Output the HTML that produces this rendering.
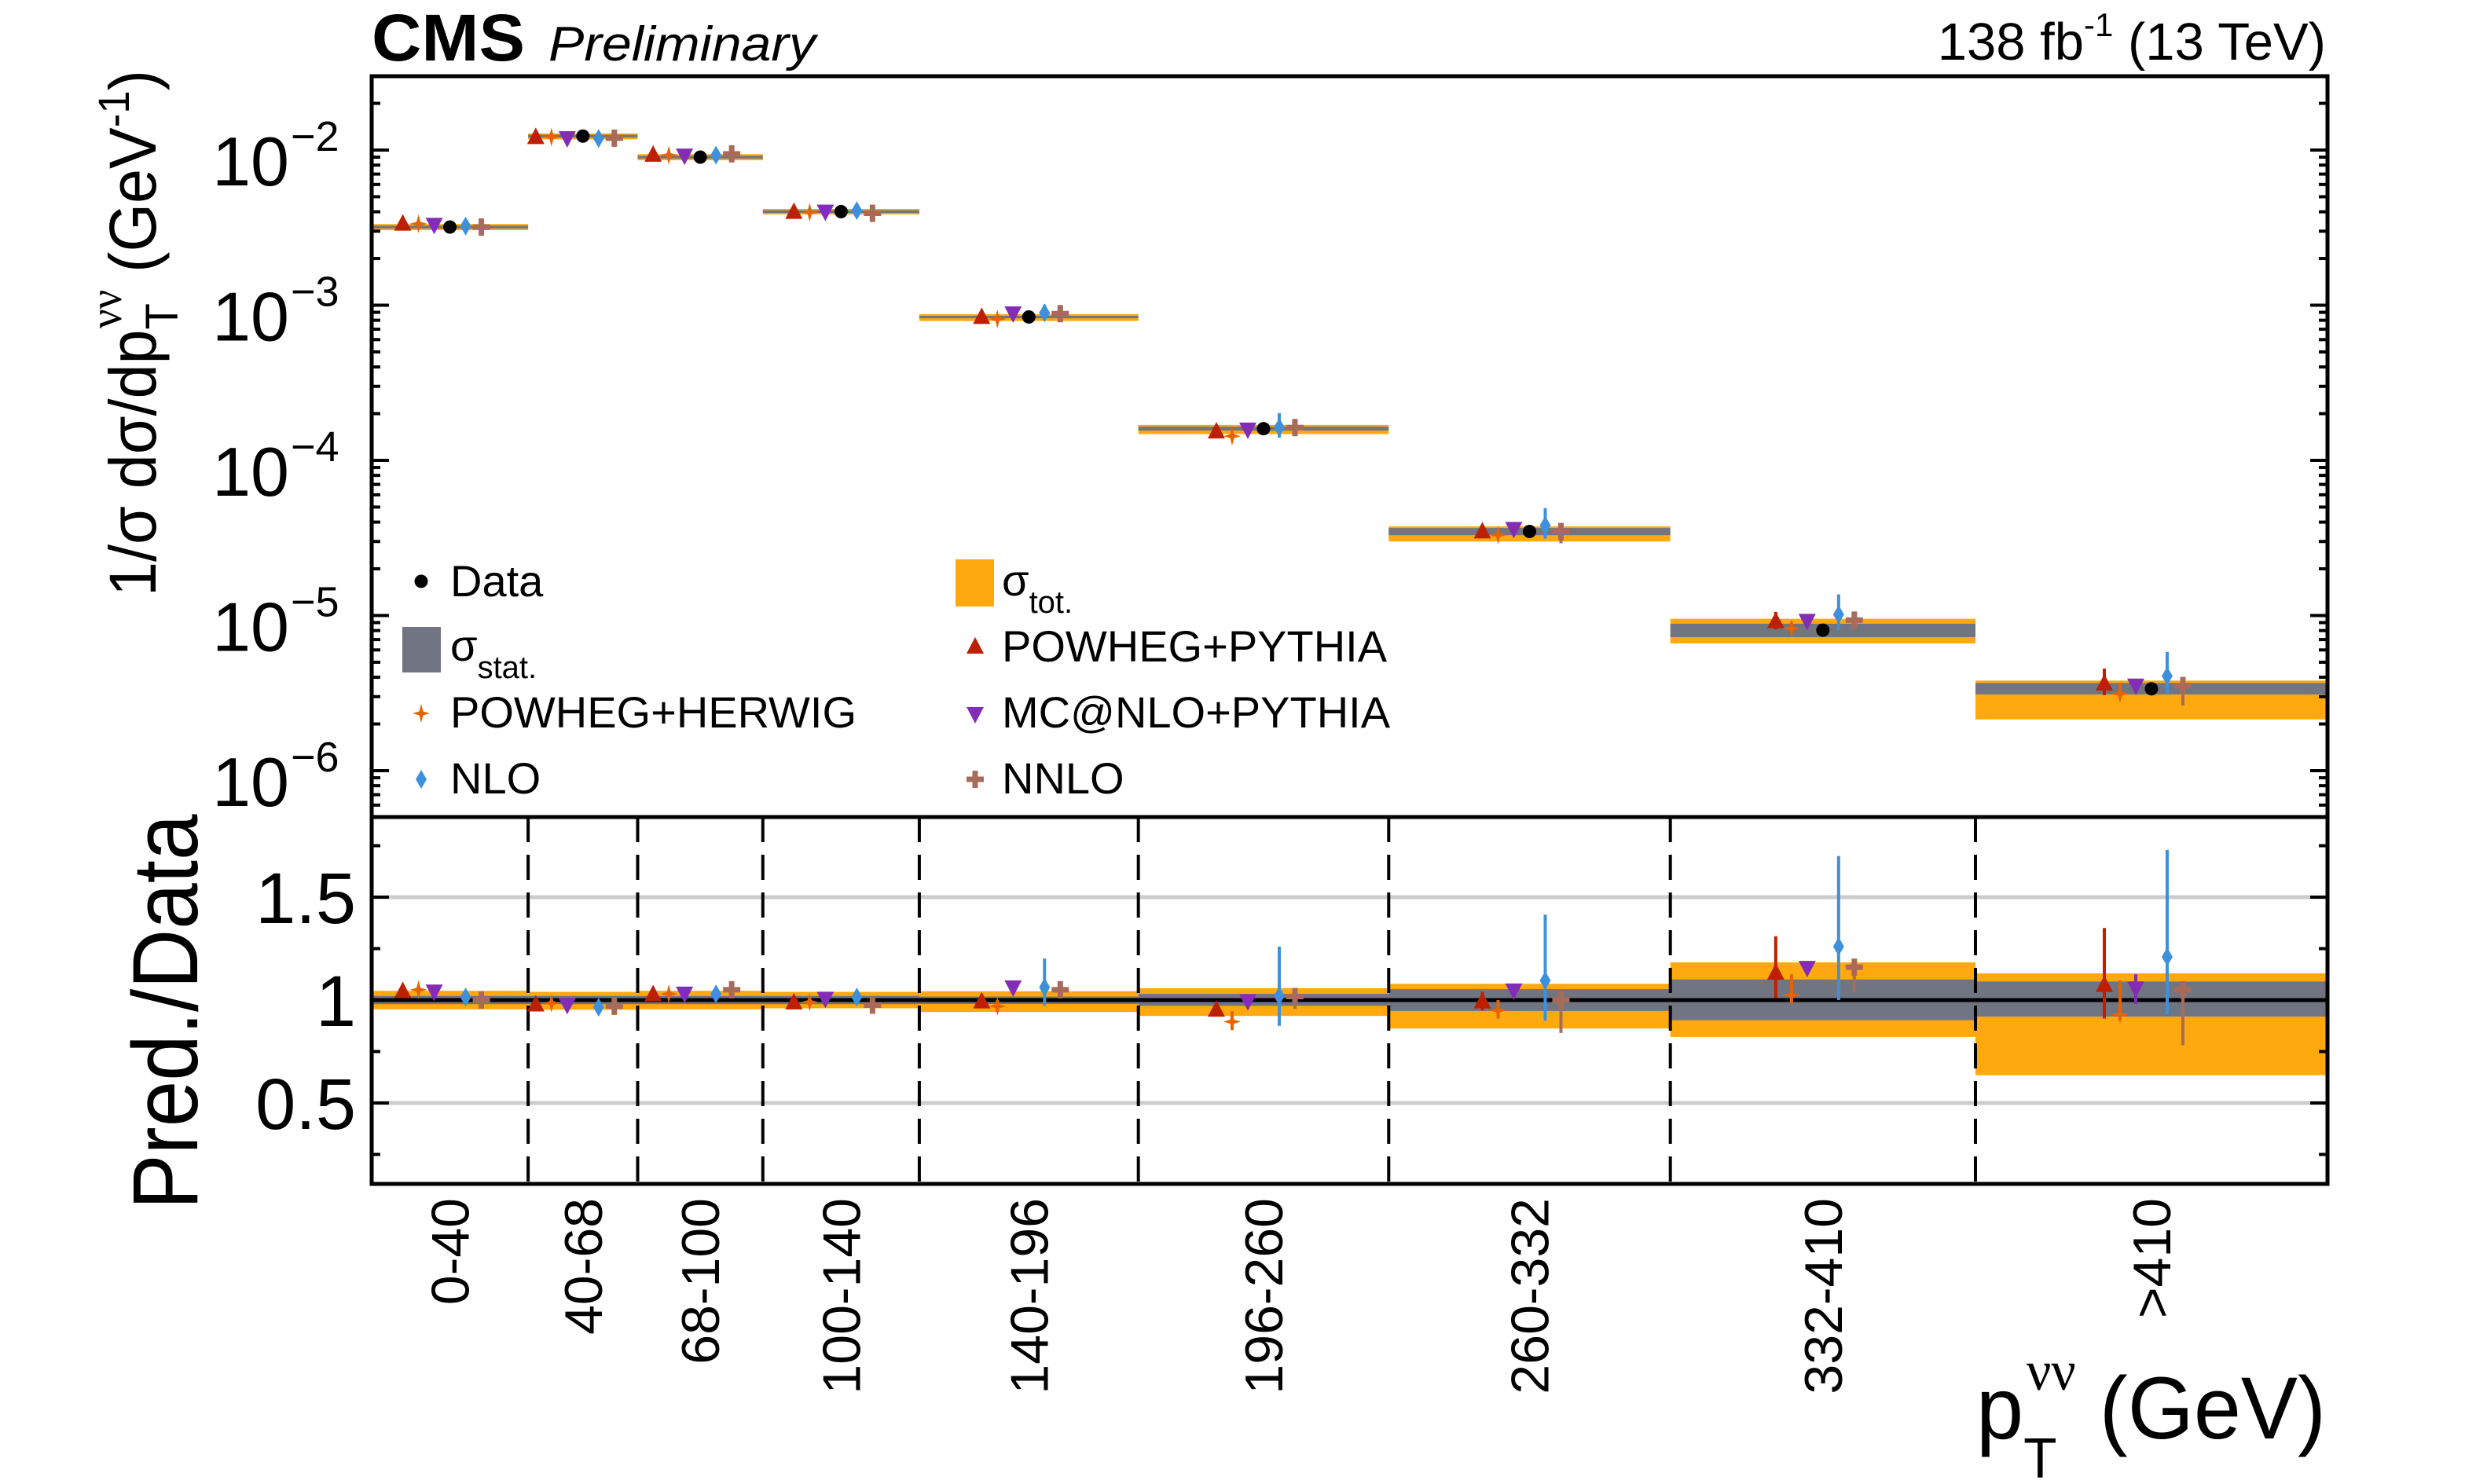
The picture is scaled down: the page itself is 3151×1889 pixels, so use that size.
<!DOCTYPE html>
<html><head><meta charset="utf-8"><style>
html,body{margin:0;padding:0;background:#fff}
svg{display:block;font-family:"Liberation Sans",Arial,sans-serif}
</style></head><body>
<svg id="chart" width="3151" height="1889" viewBox="0 0 3151 1889" xmlns="http://www.w3.org/2000/svg">
<rect x="0" y="0" width="3151" height="1889" fill="#fff"/>
<g id="bands-up"></g>
<g id="bands-lo"></g>
<g id="grid"></g>
<g id="marks"></g>
<g id="axes"></g>
<text x="473" y="77" font-size="84" font-weight="bold" textLength="195" lengthAdjust="spacingAndGlyphs">CMS</text>
<text x="698" y="77" font-size="62" font-style="italic" textLength="340" lengthAdjust="spacingAndGlyphs">Preliminary</text>
<text x="2960" y="76" font-size="67" text-anchor="end">138 fb<tspan font-size="42" dy="-30">-1</tspan><tspan dy="30"> (13 TeV)</tspan></text>
<text transform="translate(198,424) rotate(-90)" font-size="84" text-anchor="middle" textLength="670" lengthAdjust="spacingAndGlyphs">1/σ dσ/dp<tspan font-size="58" dy="28">T</tspan><tspan font-size="58" dy="-72" dx="-34" font-family="Liberation Serif, serif">νν</tspan><tspan dy="44"> (GeV</tspan><tspan font-size="56" dy="-34">-1</tspan><tspan dy="34">)</tspan></text>
<text transform="translate(251,1288) rotate(-90)" font-size="118" text-anchor="middle" textLength="503" lengthAdjust="spacingAndGlyphs">Pred./Data</text>
<text x="2960" y="1831" font-size="112" text-anchor="end" textLength="445" lengthAdjust="spacingAndGlyphs">p<tspan font-size="72" dy="50">T</tspan><tspan font-size="72" dy="-112" dx="-40" font-family="Liberation Serif, serif">νν</tspan><tspan dy="62"> (GeV)</tspan></text>
<g id="legend"></g>
</svg>
<script>
// ---- data ----
const binLabels = ["0-40","40-68","68-100","100-140","140-196","196-260","260-332","332-410",">410"];
const binEdges = [0,40,68,100,140,196,260,332,410,500];
const dataValues = [3.19e-3,1.23e-2,9.0e-3,4.01e-3,8.4e-4,1.6e-4,3.48e-5,8.05e-6,3.37e-6];
const totUp = [0.045,0.040,0.045,0.040,0.043,0.058,0.079,0.183,0.130];
const totDn = [0.045,0.047,0.045,0.040,0.058,0.077,0.138,0.179,0.365];
const statUp = [0.02,0.02,0.02,0.02,0.017,0.03,0.053,0.10,0.09];
const statDn = [0.02,0.02,0.02,0.02,0.019,0.028,0.053,0.098,0.08];
const ratioPP = [1.04,0.975,1.025,0.985,0.99,0.95,0.99,1.13,1.07];
const ratioPH = [1.05,0.985,1.03,0.99,0.97,0.895,0.95,1.025,0.93];
const ratioMC = [1.045,0.98,1.035,1.01,1.065,0.998,1.05,1.16,1.06];
const ratioNLO = [1.015,0.965,1.03,1.015,1.062,1.02,1.095,1.26,1.21];
const ratioNNLO = [1.0,0.97,1.05,0.975,1.05,1.017,1.0,1.16,1.05];
const errUpPP = [0.01,0.01,0.01,0.01,0.02,0.03,0.05,0.18,0.28];
const errDnPP = [0.01,0.01,0.01,0.01,0.02,0.03,0.04,0.12,0.16];
const errUpPH = [0.01,0.01,0.01,0.01,0.03,0.05,0.05,0.10,0.165];
const errDnPH = [0.01,0.01,0.01,0.01,0.03,0.04,0.04,0.04,0.03];
const errUpMC = [0.01,0.01,0.01,0.01,0.01,0.01,0.01,0.02,0.065];
const errDnMC = [0.01,0.01,0.01,0.01,0.01,0.01,0.01,0.02,0.08];
const errUpNLO = [0.01,0.01,0.01,0.01,0.14,0.24,0.32,0.44,0.52];
const errDnNLO = [0.01,0.01,0.01,0.01,0.09,0.145,0.195,0.26,0.28];
const errUpNNLO = [0.02,0.02,0.02,0.02,0.02,0.03,0.04,0.04,0.04];
const errDnNNLO = [0.02,0.02,0.02,0.02,0.02,0.06,0.16,0.12,0.27];
const upperTickExps = [-2,-3,-4,-5,-6];
const ratioTicks = [0.5,1,1.5];
const ratioTickLabels = ["0.5","1","1.5"];

// ---- layout ----
const L=473,R=2962,T=97,M=1040,B=1507;
const NS="http://www.w3.org/2000/svg";
function xPx(g){return L+g*(R-L)/binEdges[binEdges.length-1];}
function yUp(v){return 191+(-2-Math.log10(v))*197.5;}
function yLo(r){return 1273-(r-1)*262;}
function el(tag,attrs,parent){const e=document.createElementNS(NS,tag);for(const k in attrs)e.setAttribute(k,attrs[k]);parent.appendChild(e);return e;}
const C={tot:"#ffa90e",stat:"#717581",PP:"#bd1f01",PH:"#e76300",MC:"#832db6",NLO:"#3f90da",NNLO:"#a96b59"};

function marker(type,x,y,color,parent){
  let e;
  if(type==="circle"){e=el("circle",{cx:x,cy:y,r:8.5,fill:"#000"},parent);}
  else if(type==="tri-up"){e=el("polygon",{points:`${x},${y-13} ${x-11},${y+8} ${x+11},${y+8}`,fill:color},parent);}
  else if(type==="tri-down"){e=el("polygon",{points:`${x},${y+13} ${x-11},${y-8} ${x+11},${y-8}`,fill:color},parent);}
  else if(type==="diamond"){e=el("polygon",{points:`${x},${y-12} ${x+7},${y} ${x},${y+12} ${x-7},${y}`,fill:color},parent);}
  else if(type==="star"){e=el("polygon",{points:`${x},${y-12} ${x+2.5},${y-2.5} ${x+11},${y} ${x+2.5},${y+2.5} ${x},${y+12} ${x-2.5},${y+2.5} ${x-11},${y} ${x-2.5},${y-2.5}`,fill:color},parent);}
  else if(type==="plus"){e=el("path",{d:`M${x-3.5},${y-11}h7v7.5h7.5v7h-7.5v7.5h-7v-7.5h-7.5v-7h7.5z`,fill:color},parent);}
  return e;
}

const gBU=document.getElementById("bands-up"),gBL=document.getElementById("bands-lo"),gG=document.getElementById("grid"),gM=document.getElementById("marks"),gA=document.getElementById("axes"),gL=document.getElementById("legend");

// bands
for(let i=0;i<binLabels.length;i++){
  const x0=xPx(binEdges[i]),x1=xPx(binEdges[i+1]),d=dataValues[i];
  let r=el("rect",{x:x0,y:yUp(d*(1+totUp[i])),width:x1-x0,height:yUp(d*(1-totDn[i]))-yUp(d*(1+totUp[i])),fill:C.tot},gBU);
  
  
  r=el("rect",{x:x0,y:yUp(d*(1+statUp[i])),width:x1-x0,height:yUp(d*(1-statDn[i]))-yUp(d*(1+statUp[i])),fill:C.stat},gBU);
  
  
  r=el("rect",{x:x0,y:yLo(1+totUp[i]),width:x1-x0,height:yLo(1-totDn[i])-yLo(1+totUp[i]),fill:C.tot},gBL);
  
  
  r=el("rect",{x:x0,y:yLo(1+statUp[i]),width:x1-x0,height:yLo(1-statDn[i])-yLo(1+statUp[i]),fill:C.stat},gBL);
  
  
}
// grid in ratio
[0.5,1.5].forEach(v=>{const l=el("line",{x1:L,x2:R,y1:yLo(v),y2:yLo(v),stroke:"#cccccc","stroke-width":5},gG);
  
  });
let ln=el("line",{x1:L,x2:R,y1:yLo(1),y2:yLo(1),stroke:"#000","stroke-width":5},gG);


for(let i=1;i<binEdges.length-1;i++){
  const l=el("line",{x1:xPx(binEdges[i]),x2:xPx(binEdges[i]),y1:M,y2:B,stroke:"#000","stroke-width":4,"stroke-dasharray":"32 16"},gG);
  
  
}

// markers
const series=[
 {name:"powheg-pythia",ratio:ratioPP,up:errUpPP,dn:errDnPP,type:"tri-up",color:C.PP,off:-60},
 {name:"powheg-herwig",ratio:ratioPH,up:errUpPH,dn:errDnPH,type:"star",color:C.PH,off:-40},
 {name:"mcatnlo-pythia",ratio:ratioMC,up:errUpMC,dn:errDnMC,type:"tri-down",color:C.MC,off:-20},
 {name:"nlo",ratio:ratioNLO,up:errUpNLO,dn:errDnNLO,type:"diamond",color:C.NLO,off:20},
 {name:"nnlo",ratio:ratioNNLO,up:errUpNNLO,dn:errDnNNLO,type:"plus",color:C.NNLO,off:40}
];
for(let i=0;i<binLabels.length;i++){
  const xc=(xPx(binEdges[i])+xPx(binEdges[i+1]))/2,d=dataValues[i];
  series.forEach(s=>{
    const x=xc+s.off,r=s.ratio[i];
    let e=el("line",{x1:x,x2:x,y1:yUp(d*(r+s.up[i])),y2:yUp(d*Math.max(r-s.dn[i],0.01)),stroke:s.color,"stroke-width":4},gM);
    
    
    e=marker(s.type,x,yUp(d*r),s.color,gM);
    
    
    e=el("line",{x1:x,x2:x,y1:yLo(r+s.up[i]),y2:yLo(r-s.dn[i]),stroke:s.color,"stroke-width":4},gM);
    
    
    e=marker(s.type,x,yLo(r),s.color,gM);
    
    
  });
  const dp=marker("circle",xc,yUp(d),"#000",gM);
  
  
  // x label
  const t=el("text",{transform:`translate(${xc+24},1525) rotate(-90)`,"font-size":68,"text-anchor":"end"},gA);
  t.textContent=binLabels[i];
  
  
}

// axes frames
[[T,M],[M,B]].forEach(([a,b])=>{const f=el("rect",{x:L,y:a,width:R-L,height:b-a,fill:"none",stroke:"#000","stroke-width":5},gA);
  
  });
// upper ticks
for(let e=-7;e<=-1;e++){
  for(let k=1;k<10;k++){
    const v=k*Math.pow(10,e),y=yUp(v);
    if(y<T+2||y>M-2)continue;
    const len=k===1?22:11;
    el("line",{x1:L,x2:L+len,y1:y,y2:y,stroke:"#000","stroke-width":4},gA);
    el("line",{x1:R-len,x2:R,y1:y,y2:y,stroke:"#000","stroke-width":4},gA);
  }
}
upperTickExps.forEach(ex=>{
  const y=yUp(Math.pow(10,ex));
  const t=el("text",{x:368,y:y+45,"font-size":88,"text-anchor":"end"},gA);
  t.textContent="10";
  
  
  const s=el("text",{x:370,y:y+1,"font-size":54},gA);
  s.textContent="−"+(-ex);
  
  
});
// lower ticks
for(let v=0.25;v<1.9;v+=0.25){
  const y=yLo(v);const len=(Math.abs(v*2-Math.round(v*2))<1e-6)?22:11;
  el("line",{x1:L,x2:L+len,y1:y,y2:y,stroke:"#000","stroke-width":4},gA);
  el("line",{x1:R-len,x2:R,y1:y,y2:y,stroke:"#000","stroke-width":4},gA);
}
ratioTicks.forEach((v,i)=>{
  const t=el("text",{x:453,y:yLo(v)+33,"font-size":92,"text-anchor":"end"},gA);
  t.textContent=ratioTickLabels[i];
  
  
});

// legend
function legText(x,y,txt,name){const t=el("text",{x:x,y:y,"font-size":56},gL);t.textContent=txt;
  
  return t;}
let m=marker("circle",536,740,"#000",gL);


legText(573,759,"Data","legend-data");
let bx=el("rect",{x:512,y:798,width:49,height:58,fill:C.stat},gL);


let st=legText(573,841,"σ","legend-stat");
el("tspan",{"font-size":40,dy:22},st).textContent="stat.";
bx=el("rect",{x:1216,y:712,width:49,height:60,fill:C.tot},gL);


st=legText(1275,758,"σ","legend-tot");
el("tspan",{"font-size":40,dy:22},st).textContent="tot.";
const legItems=[
 [536,908,"star",C.PH,"POWHEG+HERWIG",573,926],
 [536,992,"diamond",C.NLO,"NLO",573,1010],
 [1241,824,"tri-up",C.PP,"POWHEG+PYTHIA",1275,842],
 [1241,908,"tri-down",C.MC,"MC@NLO+PYTHIA",1275,926],
 [1241,992,"plus",C.NNLO,"NNLO",1275,1010]
];
legItems.forEach(it=>{
  const mk=marker(it[2],it[0],it[1],it[3],gL);
  
  
  legText(it[5],it[6],it[4],'legend-entry');
});
</script>
</body></html>
